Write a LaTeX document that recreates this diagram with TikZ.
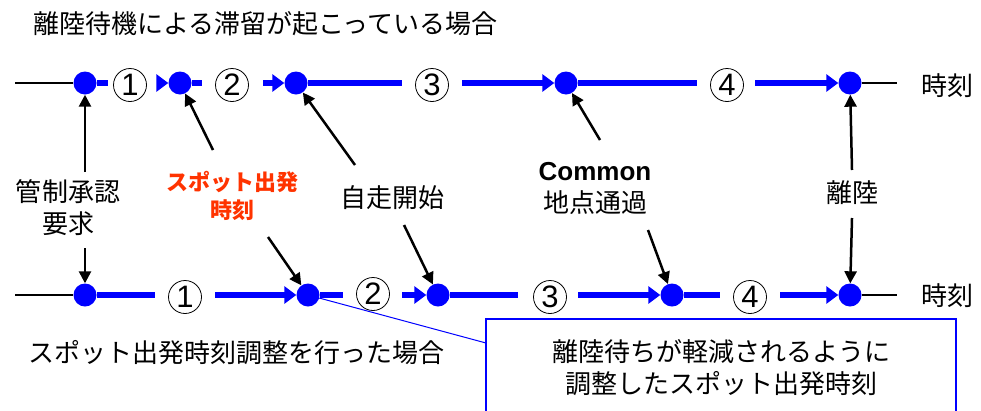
\documentclass[tikz,border=0pt]{standalone}
\usepackage{fontspec}
\setmainfont{Liberation Sans}
\newfontfamily\jp{Noto Sans CJK JP}
\usetikzlibrary{arrows.meta}
\definecolor{pblue}{RGB}{0,0,255}
\definecolor{pred}{RGB}{255,51,0}
\begin{document}
\begin{tikzpicture}[x=1pt,y=-1pt,
 dot/.style={circle,fill=pblue,minimum size=23pt,inner sep=0pt},
 num/.style={circle,draw,line width=0.8pt,minimum size=33pt,inner sep=0pt,font=\fontsize{31}{31}\selectfont},
 bl/.style={draw=pblue,line width=6pt},
 bla/.style={bl,-{Triangle[length=12pt,width=17pt]}},
 thinl/.style={draw=black,line width=1.2pt},
 lab/.style={font=\jp\fontsize{26}{32}\selectfont,align=center,inner sep=0pt},
 ptr/.style={draw=black,line width=2.5pt,-{Triangle[length=12pt,width=12pt]}}]
\useasboundingbox (0,0) rectangle (981,410);
% title
\node[lab,anchor=west] (title) at (33,24) {離陸待機による滞留が起こっている場合};
% top row
\node[dot] (t1) at (85,83) {};
\node[dot] (t2) at (180,83) {};
\node[dot] (t3) at (296,83) {};
\node[dot] (t4) at (566,83) {};
\node[dot] (t5) at (850,83) {};
\node[num] (tn1) at (130,85) {1};
\node[num] (tn2) at (232,85) {2};
\node[num] (tn3) at (432,85) {3};
\node[num] (tn4) at (727,85) {4};
\coordinate (tL) at (15,83);
\coordinate (tR) at (897,83);
\coordinate (ta1) at (108,83);
\coordinate (ta2) at (157,83);
\coordinate (ta3) at (202,83);
\coordinate (ta4) at (263,83);
\coordinate (ta5) at (402,83);
\coordinate (ta6) at (462,83);
\coordinate (ta7) at (697,83);
\coordinate (ta8) at (755,83);
\draw[thinl] (tL) -- (t1);
\draw[thinl] (t5) -- (tR);
\draw[bl] (t1) -- (ta1);
\draw[bla] (ta2) -- (t2);
\draw[bl] (t2) -- (ta3);
\draw[bla] (ta4) -- (t3);
\draw[bl] (t3) -- (ta5);
\draw[bla] (ta6) -- (t4);
\draw[bl] (t4) -- (ta7);
\draw[bla] (ta8) -- (t5);
\node[lab] (time1) at (947,86) {時刻};
% bottom row
\node[dot] (b1) at (85,295) {};
\node[dot] (b2) at (308,295) {};
\node[dot] (b3) at (438,295) {};
\node[dot] (b4) at (672,295) {};
\node[dot] (b5) at (850,295) {};
\node[num] (bn1) at (185,297) {1};
\node[num] (bn2) at (373,294) {2};
\node[num] (bn3) at (550,297) {3};
\node[num] (bn4) at (750,297) {4};
\coordinate (bL) at (15,295);
\coordinate (bR) at (897,295);
\coordinate (ba1) at (155,295);
\coordinate (ba2) at (215,295);
\coordinate (ba3) at (343,295);
\coordinate (ba4) at (402,295);
\coordinate (ba5) at (518,295);
\coordinate (ba6) at (578,295);
\coordinate (ba7) at (720,295);
\coordinate (ba8) at (780,295);
\draw[thinl] (bL) -- (b1);
\draw[thinl] (b5) -- (bR);
\draw[bl] (b1) -- (ba1);
\draw[bla] (ba2) -- (b2);
\draw[bl] (b2) -- (ba3);
\draw[bla] (ba4) -- (b3);
\draw[bl] (b3) -- (ba5);
\draw[bla] (ba6) -- (b4);
\draw[bl] (b4) -- (ba7);
\draw[bla] (ba8) -- (b5);
\node[lab] (time2) at (947,296) {時刻};
% labels
\node[lab] (ctl) at (68,208) {管制承認\\要求};
\node[lab,font=\jp\bfseries\fontsize{22}{28}\selectfont,text=pred] (spt) at (232,196) {スポット出発\\時刻};
\node[lab] (jis) at (392,198) {自走開始};
\node[lab] (cmn) at (595,188) {{\rmfamily\bfseries\fontsize{26}{32}\selectfont Common}\\地点通過};
\node[lab] (rk) at (852,193) {離陸};
\node[lab,anchor=west] (btl) at (28,353) {スポット出発時刻調整を行った場合};
% pointer arrows
\coordinate (p1a) at (85,172);
\coordinate (p1b) at (85,248);
\coordinate (p2a) at (213,150);
\coordinate (p2b) at (268,237);
\coordinate (p3a) at (355,165);
\coordinate (p3b) at (404,225);
\coordinate (p4a) at (600,140);
\coordinate (p4b) at (648,230);
\coordinate (p5a) at (852,170);
\coordinate (p5b) at (852,218);
\draw[ptr] (p1a) -- (t1);
\draw[ptr] (p1b) -- (b1);
\draw[ptr] (p2a) -- (t2);
\draw[ptr] (p2b) -- (b2);
\draw[ptr] (p3a) -- (t3);
\draw[ptr] (p3b) -- (b3);
\draw[ptr] (p4a) -- (t4);
\draw[ptr] (p4b) -- (b4);
\draw[ptr] (p5a) -- (t5);
\draw[ptr] (p5b) -- (b5);
% callout
\node[lab,draw=pblue,line width=1.5pt,minimum width=470pt,minimum height=98pt] (cbox) at (721,368) {離陸待ちが軽減されるように\\調整したスポット出発時刻};
\coordinate (cp) at (486,343);
\draw[pblue,line width=1pt] (b2) -- (cp);
\end{tikzpicture}
\end{document}
